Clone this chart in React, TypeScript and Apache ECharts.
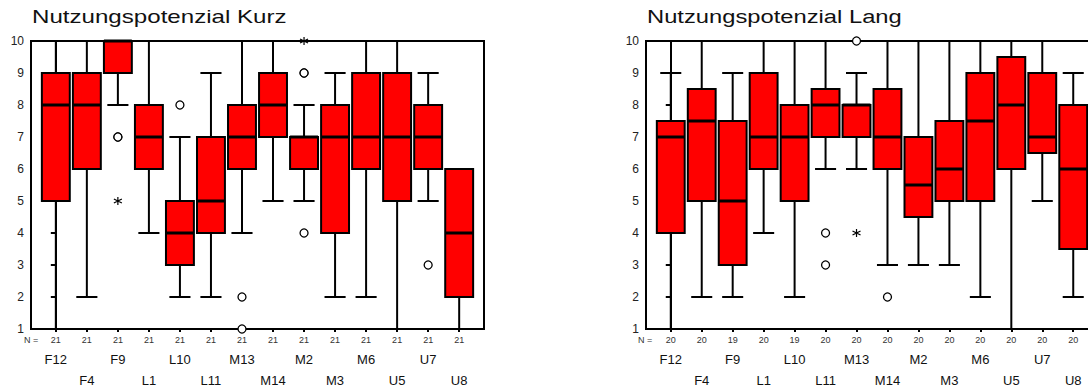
import React, { useEffect, useRef } from "react";
import * as echarts from "echarts";

const categories = ["F12", "F4", "F9", "L1", "L10", "L11", "M13", "M14", "M2", "M3", "M6", "U5", "U7", "U8"];
const yMin = 1;
const yMax = 10;

// [min whisker, Q1, median, Q3, max whisker]
const kurzBoxes = [
  [1, 5, 8, 9, 10],
  [2, 6, 8, 9, 10],
  [8, 9, 10, 10, 10],
  [4, 6, 7, 8, 10],
  [2, 3, 4, 5, 7],
  [2, 4, 5, 7, 9],
  [4, 6, 7, 8, 10],
  [5, 7, 8, 9, 10],
  [5, 6, 7, 7, 8],
  [2, 4, 7, 8, 9],
  [2, 6, 7, 9, 10],
  [1, 5, 7, 9, 10],
  [5, 6, 7, 8, 9],
  [1, 2, 4, 6, 6],
];
const kurzN = [21, 21, 21, 21, 21, 21, 21, 21, 21, 21, 21, 21, 21, 21];
const kurzOutliers = [[2, 7], [2, 7], [4, 8], [6, 2], [6, 1], [8, 9], [8, 9], [8, 4], [12, 3]];
const kurzExtremes = [[2, 5], [8, 10]];

const langBoxes = [
  [1, 4, 7, 7.5, 9],
  [2, 5, 7.5, 8.5, 10],
  [2, 3, 5, 7.5, 9],
  [4, 6, 7, 9, 10],
  [2, 5, 7, 8, 10],
  [6, 7, 8, 8.5, 10],
  [6, 7, 8, 8, 9],
  [3, 6, 7, 8.5, 10],
  [3, 4.5, 5.5, 7, 10],
  [3, 5, 6, 7.5, 10],
  [2, 5, 7.5, 9, 10],
  [1, 6, 8, 9.5, 10],
  [5, 6.5, 7, 9, 10],
  [2, 3.5, 6, 8, 9],
];
const langN = [20, 20, 19, 20, 19, 20, 20, 20, 20, 20, 20, 20, 20, 20];
const langOutliers = [[5, 4], [5, 3], [6, 10], [7, 2]];
const langExtremes = [[6, 4]];

const titles = ["Nutzungspotenzial Kurz", "Nutzungspotenzial Lang"];

const FONT = "'Liberation Sans', Arial, sans-serif";
const idx = categories.map((_, i) => i);
const ASTERISK = "path://M5,0L5,10M0.7,2.5L9.3,7.5M0.7,7.5L9.3,2.5";

const renderBox = (params: any, api: any) => {
  const x = api.value(0);
  const mn = api.value(1), q1 = api.value(2), md = api.value(3), q3 = api.value(4), mx = api.value(5);
  const pMin = api.coord([x, mn]);
  const pQ1 = api.coord([x, q1]);
  const pMd = api.coord([x, md]);
  const pQ3 = api.coord([x, q3]);
  const pMax = api.coord([x, mx]);
  const band = api.size([1, 0])[0];
  const hw = band * 0.45;
  const hc = band * 0.34;
  const cx = pMd[0];
  const ls = { stroke: "#000", lineWidth: 2 };
  return {
    type: "group",
    children: [
      { type: "line", shape: { x1: cx, y1: pMax[1], x2: cx, y2: pQ3[1] }, style: ls },
      { type: "line", shape: { x1: cx, y1: pQ1[1], x2: cx, y2: pMin[1] }, style: ls },
      { type: "line", shape: { x1: cx - hc, y1: pMax[1], x2: cx + hc, y2: pMax[1] }, style: ls },
      { type: "line", shape: { x1: cx - hc, y1: pMin[1], x2: cx + hc, y2: pMin[1] }, style: ls },
      {
        type: "rect",
        shape: { x: cx - hw, y: pQ3[1], width: hw * 2, height: pQ1[1] - pQ3[1] },
        style: { fill: "#ff0000", stroke: "#000", lineWidth: 2 },
      },
      { type: "line", shape: { x1: cx - hw, y1: pMd[1], x2: cx + hw, y2: pMd[1] }, style: { stroke: "#000", lineWidth: 3 } },
    ],
  };
};

export default function App() {
  const ref = useRef<HTMLDivElement>(null);
  useEffect(() => {
    if (!ref.current) return;
    const chart = echarts.init(ref.current, undefined, { renderer: "svg" });
    const grids = [
      { left: 31, top: 41, width: 453, height: 288 },
      { left: 646, top: 41, width: 452, height: 288 },
    ];
    const boxes = [kurzBoxes, langBoxes];
    const ns = [kurzN, langN];
    const outs = [kurzOutliers, langOutliers];
    const exts = [kurzExtremes, langExtremes];

    const xAxis: any[] = [];
    const yAxis: any[] = [];
    const series: any[] = [];
    grids.forEach((g, gi) => {
      xAxis.push({
        type: "value",
        gridIndex: gi,
        min: -0.8,
        max: 13.8,
        splitLine: { show: false },
        position: "bottom",
        axisLine: { show: true, lineStyle: { color: "#000", width: 2 } },
        axisTick: { show: true, customValues: idx, length: 3, lineStyle: { color: "#000", width: 2 } },
        axisLabel: { show: false },
      });
      yAxis.push({
        type: "value",
        gridIndex: gi,
        min: yMin,
        max: yMax,
        interval: 1,
        splitLine: { show: false },
        axisLine: { show: true, lineStyle: { color: "#000", width: 2 } },
        axisTick: { show: true, length: 5, lineStyle: { color: "#000", width: 2 } },
        axisLabel: { fontSize: 12, color: "#222", fontFamily: FONT, margin: 7 },
      });
      series.push({
        type: "custom",
        xAxisIndex: gi,
        yAxisIndex: gi,
        renderItem: renderBox,
        clip: false,
        encode: { x: 0, y: [1, 2, 3, 4, 5] },
        data: boxes[gi].map((b, i) => [i, ...b]),
        z: 2,
      });
      series.push({
        type: "scatter",
        xAxisIndex: gi,
        yAxisIndex: gi,
        symbol: "circle",
        symbolSize: 8,
        clip: false,
        itemStyle: { color: "#fff", borderColor: "#000", borderWidth: 1.3, opacity: 1 },
        data: outs[gi],
        z: 3,
      });
      series.push({
        type: "scatter",
        xAxisIndex: gi,
        yAxisIndex: gi,
        symbol: ASTERISK,
        symbolSize: 8,
        clip: false,
        itemStyle: { color: "transparent", borderColor: "#000", borderWidth: 1.2, opacity: 1 },
        data: exts[gi],
        z: 3,
      });
    });

    const graphic: any[] = [
      { type: "text", x: 32, y: 8, scaleX: 1.34, style: { text: titles[0], fontSize: 18, fontFamily: FONT, fill: "#111", textVerticalAlign: "top" } },
      { type: "text", x: 647, y: 8, scaleX: 1.32, style: { text: titles[1], fontSize: 18, fontFamily: FONT, fill: "#111", textVerticalAlign: "top" } },
      { type: "text", x: 31, y: 340, style: { text: "N =", fontSize: 9, fontFamily: FONT, fill: "#333", textAlign: "center", textVerticalAlign: "middle" } },
      { type: "text", x: 645, y: 340, style: { text: "N =", fontSize: 9, fontFamily: FONT, fill: "#333", textAlign: "center", textVerticalAlign: "middle" } },
    ];

    chart.setOption({
      animation: false,
      backgroundColor: "#fff",
      grid: grids.map((g) => ({
        ...g,
        show: true,
        containLabel: false,
        borderColor: "#000",
        borderWidth: 2,
        backgroundColor: "transparent",
      })),
      xAxis,
      yAxis,
      series,
      graphic,
    });

    // label rows under each axis, placed through the axis scales
    grids.forEach((g, gi) => {
      idx.forEach((i) => {
        const p = chart.convertToPixel({ gridIndex: gi }, [i, yMin]) as number[];
        graphic.push({
          type: "text",
          x: p[0],
          y: p[1] + 11,
          style: { text: String(ns[gi][i]), fontSize: 9, fontFamily: FONT, fill: "#333", textAlign: "center", textVerticalAlign: "middle" },
        });
        graphic.push({
          type: "text",
          x: p[0],
          y: p[1] + (i % 2 === 0 ? 30 : 51),
          style: { text: categories[i], fontSize: 13, fontFamily: FONT, fill: "#111", textAlign: "center", textVerticalAlign: "middle" },
        });
      });
    });
    chart.setOption({ graphic });
    return () => chart.dispose();
  }, []);
  return (
    <div style={{ position: "absolute", left: 0, top: 0, width: 1088, height: 390, overflow: "hidden" }}>
      <div ref={ref} style={{ position: "absolute", left: 0, top: 0, width: 1110, height: 390 }} />
    </div>
  );
}
